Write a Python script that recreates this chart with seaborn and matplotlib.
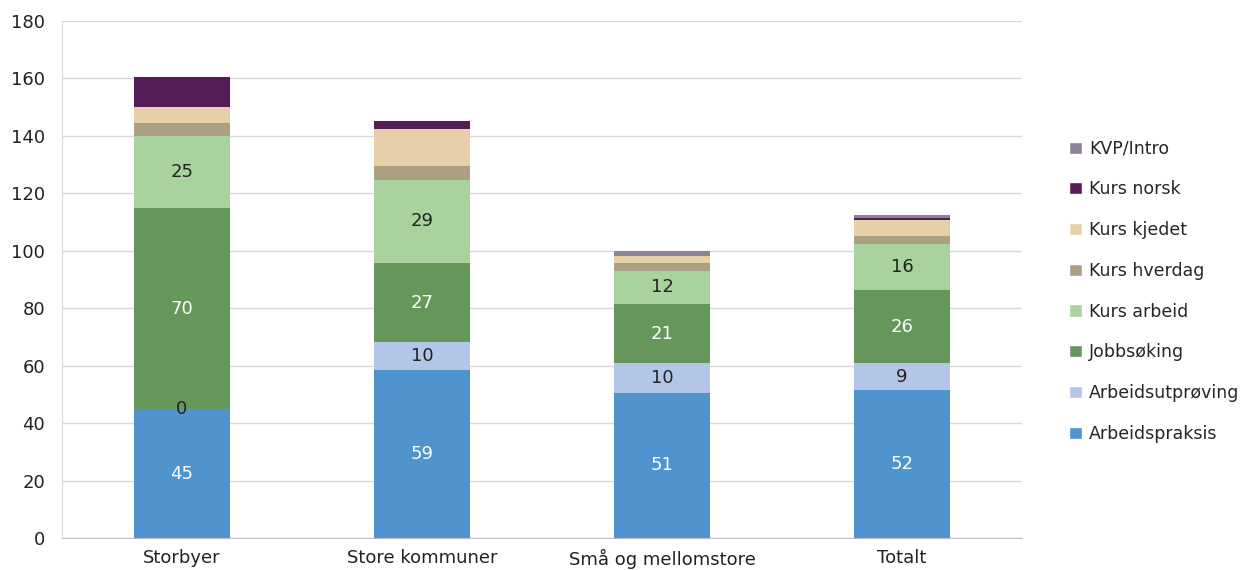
import numpy as np
import pandas as pd
import matplotlib
matplotlib.use("Agg")
import matplotlib.pyplot as plt
import seaborn as sns
from matplotlib.patches import Patch

# Kategorier og serier (lest av fra figuren)
kategorier = ["Storbyer", "Store kommuner", "Små og mellomstore", "Totalt"]
arbeidspraksis = [44.8, 58.6, 50.6, 51.5]
arbeidsutproving = [0.0, 9.6, 10.3, 9.3]
jobbsoking = [70.2, 27.4, 20.6, 25.6]
kurs_arbeid = [25.0, 29.2, 11.6, 16.0]
kurs_hverdag = [4.6, 4.6, 2.5, 2.8]
kurs_kjedet = [5.5, 13.1, 2.6, 5.5]
kurs_norsk = [10.3, 2.7, 0.0, 0.8]
kvp_intro = [0.0, 0.0, 1.8, 1.0]

serier = ["Arbeidspraksis", "Arbeidsutprøving", "Jobbsøking", "Kurs arbeid",
          "Kurs hverdag", "Kurs kjedet", "Kurs norsk", "KVP/Intro"]
verdier = [arbeidspraksis, arbeidsutproving, jobbsoking, kurs_arbeid,
           kurs_hverdag, kurs_kjedet, kurs_norsk, kvp_intro]
farger = ["#4F93CF", "#B4C6E7", "#65965A", "#A9D29E",
          "#ACA084", "#E7CFA8", "#561C58", "#8E8299"]
# serier som får tallverdier, og tekstfarge
etikett_farge = {0: "white", 1: "#222222", 2: "white", 3: "#222222"}

df = pd.DataFrame(dict(zip(serier, verdier)), index=kategorier)
kum = df.cumsum(axis=1)

sns.set_style("white")
plt.rcParams["font.family"] = ["DejaVu Sans"]

fig = plt.figure(figsize=(12.42, 5.70), dpi=100)
ax = fig.add_axes([0.0499, 0.0561, 0.773, 0.9071])

# Stablede søyler: tegn kumulative summer fra toppen og ned
for i in range(len(serier) - 1, -1, -1):
    sns.barplot(x=kategorier, y=kum[serier[i]].values, color=farger[i],
                width=0.4, linewidth=0, saturation=1, ax=ax, zorder=2)

# Verdietiketter
for i, c in etikett_farge.items():
    s = serier[i]
    for j, k in enumerate(kategorier):
        v = df.loc[k, s]
        midt = kum.loc[k, s] - v / 2
        ax.text(j, midt, f"{v:.0f}", ha="center", va="center",
                fontsize=13, color=c, zorder=3)

ax.set_ylim(0, 180)
ax.set_xlim(-0.5, 3.5)
ax.set_yticks(range(0, 181, 20))
ax.yaxis.grid(True, color="#D9D9D9", linewidth=1)
ax.set_axisbelow(True)
for sp in ["top", "right"]:
    ax.spines[sp].set_visible(False)
ax.spines["left"].set_color("#D9D9D9")
ax.spines["bottom"].set_color("#BFBFBF")
ax.tick_params(axis="y", labelsize=13, length=0, pad=12, colors="#222222")
ax.set_xticks(np.arange(-0.5, 4, 1), minor=True)
ax.tick_params(axis="x", which="major", length=0, labelsize=13, pad=8,
               colors="#222222")
ax.tick_params(axis="x", which="minor", length=6, color="#BFBFBF")
ax.set_xlabel("")
ax.set_ylabel("")

handles = [Patch(facecolor=farger[i], label=serier[i]) for i in range(len(serier) - 1, -1, -1)]
fig.legend(handles=handles, loc="center left", bbox_to_anchor=(0.861, 0.489),
           frameon=False, fontsize=12.5, handlelength=0.7, handleheight=0.7,
           handletextpad=0.45, labelspacing=1.31, borderpad=0, borderaxespad=0)

fig.savefig("out.png", dpi=100)
